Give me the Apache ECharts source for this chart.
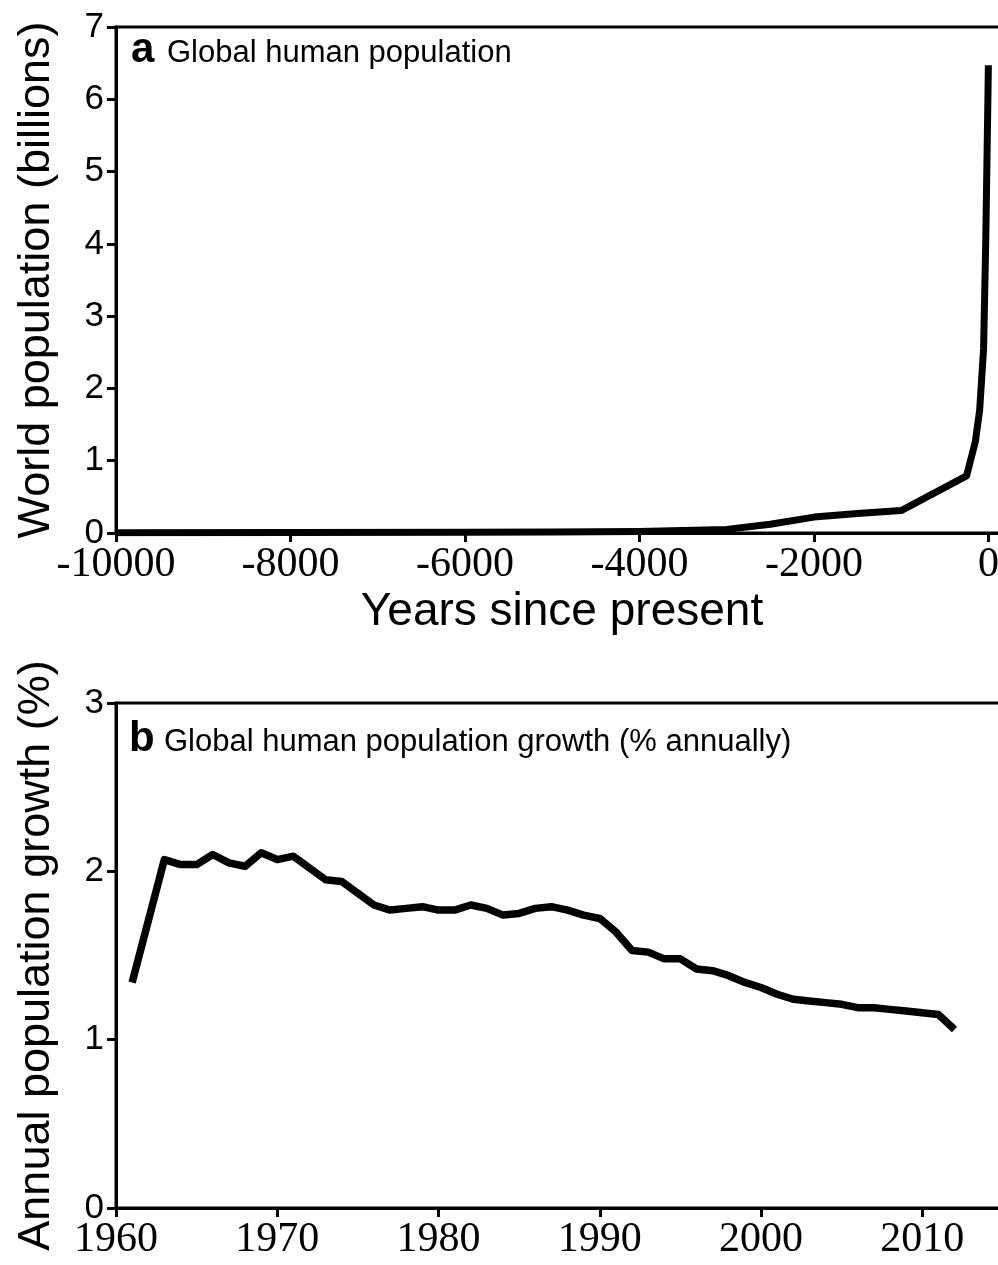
<!DOCTYPE html>
<html>
<head>
<meta charset="utf-8">
<script src="https://cdn.jsdelivr.net/npm/echarts@6/dist/echarts.min.js"></script>
<style>html,body{margin:0;padding:0;background:#fff;}#c{width:998px;height:1265px;}</style>
</head>
<body>
<div id="c"></div>
<script>
// Panel a: global human population (billions) vs years since present
const yearsA = [-10000, -8000, -6000, -5000, -4000, -3000, -2500, -2000, -1500, -1000, -250, -150, -100, -55, -30, -5, 0];
const popA   = [0.005, 0.008, 0.012, 0.015, 0.02, 0.05, 0.12, 0.22, 0.27, 0.31, 0.79, 1.26, 1.7, 2.55, 4.05, 6.05, 6.47];

// Panel b: annual population growth (%)
const yearsB = [1961, 1963, 1964, 1965, 1966, 1967, 1968, 1969, 1970, 1971, 1972, 1973, 1974, 1975, 1976, 1977, 1978, 1979, 1980,
  1981, 1982, 1983, 1984, 1985, 1986, 1987, 1988, 1989, 1990, 1991, 1992, 1993, 1994, 1995, 1996, 1997, 1998, 1999, 2000,
  2001, 2002, 2003, 2004, 2005, 2006, 2007, 2008, 2009, 2010, 2011, 2012];
const growthB = [1.34, 2.07, 2.04, 2.04, 2.10, 2.05, 2.03, 2.11, 2.07, 2.09, 2.02, 1.95, 1.94, 1.87, 1.80, 1.77, 1.78, 1.79, 1.77,
  1.77, 1.80, 1.78, 1.74, 1.75, 1.78, 1.79, 1.77, 1.74, 1.72, 1.64, 1.53, 1.52, 1.48, 1.48, 1.42, 1.41, 1.38, 1.34, 1.31,
  1.27, 1.24, 1.23, 1.22, 1.21, 1.19, 1.19, 1.18, 1.17, 1.16, 1.15, 1.06];

const titleA = 'Global human population';
const titleB = 'Global human population growth (% annually)';
const xNameA = 'Years since present';
const yNameA = 'World population (billions)';
const yNameB = 'Annual population growth (%)';

const SANS = '"Liberation Sans", Arial, Helvetica, sans-serif';
const SERIF = '"Liberation Serif", "Times New Roman", serif';

const axisLine = { show: true, onZero: false, lineStyle: { color: '#000', width: 3 } };
const axisTick = { show: true, inside: false, length: 9, lineStyle: { color: '#000', width: 3 } };

const chart = echarts.init(document.getElementById('c'), null, { renderer: 'canvas' });
chart.setOption({
  backgroundColor: '#fff',
  animation: false,
  grid: [
    { left: 116, top: 27, right: -34, bottom: 732, show: true, borderColor: '#000', borderWidth: 3,
      containLabel: false, outerBoundsMode: 'none' },
    { left: 116, top: 703, right: -21, bottom: 57, show: true, borderColor: '#000', borderWidth: 3,
      containLabel: false, outerBoundsMode: 'none' }
  ],
  xAxis: [
    { gridIndex: 0, type: 'value', min: -10000, max: 500, interval: 2000,
      axisLine, axisTick, splitLine: { show: false },
      axisLabel: { fontFamily: SERIF, fontSize: 42, color: '#000', margin: 11, showMaxLabel: false, formatter: v => String(v) },
      name: xNameA, nameLocation: 'middle', nameGap: 56,
      nameTextStyle: { fontFamily: SANS, fontSize: 46, color: '#000', padding: [0, 24, 0, 0] } },
    { gridIndex: 1, type: 'value', min: 1960, max: 2016, interval: 10,
      axisLine, axisTick, splitLine: { show: false },
      axisLabel: { fontFamily: SERIF, fontSize: 42, color: '#000', margin: 11, showMaxLabel: false, formatter: v => String(v) } }
  ],
  yAxis: [
    { gridIndex: 0, type: 'value', min: 0, max: 7, interval: 1,
      axisLine, axisTick, splitLine: { show: false },
      axisLabel: { fontFamily: SANS, fontSize: 35, color: '#000', margin: 12 },
      name: yNameA, nameLocation: 'middle', nameGap: 57, nameRotate: 90,
      nameTextStyle: { fontFamily: SANS, fontSize: 45, color: '#000' } },
    { gridIndex: 1, type: 'value', min: 0, max: 3, interval: 1,
      axisLine, axisTick, splitLine: { show: false },
      axisLabel: { fontFamily: SANS, fontSize: 35, color: '#000', margin: 12 },
      name: yNameB, nameLocation: 'middle', nameGap: 57, nameRotate: 90,
      nameTextStyle: { fontFamily: SANS, fontSize: 45, color: '#000' } }
  ],
  series: [
    { type: 'line', xAxisIndex: 0, yAxisIndex: 0, symbol: 'none', silent: true,
      data: yearsA.map((x, i) => [x, popA[i]]),
      lineStyle: { color: '#000', width: 7, join: 'round', cap: 'butt' } },
    { type: 'line', xAxisIndex: 1, yAxisIndex: 1, symbol: 'none', silent: true,
      data: yearsB.map((x, i) => [x, growthB[i]]),
      lineStyle: { color: '#000', width: 7.5, join: 'round', cap: 'butt' } }
  ],
  graphic: [
    { type: 'text', x: 131, y: 50, style: { text: 'a', font: 'bold 42px ' + SANS, fill: '#000', verticalAlign: 'middle' } },
    { type: 'text', x: 167, y: 53, style: { text: titleA, font: '31px ' + SANS, fill: '#000', verticalAlign: 'middle' } },
    { type: 'text', x: 129, y: 739, style: { text: 'b', font: 'bold 42px ' + SANS, fill: '#000', verticalAlign: 'middle' } },
    { type: 'text', x: 164, y: 742, style: { text: titleB, font: '31px ' + SANS, fill: '#000', verticalAlign: 'middle' } }
  ]
});
</script>
</body>
</html>
